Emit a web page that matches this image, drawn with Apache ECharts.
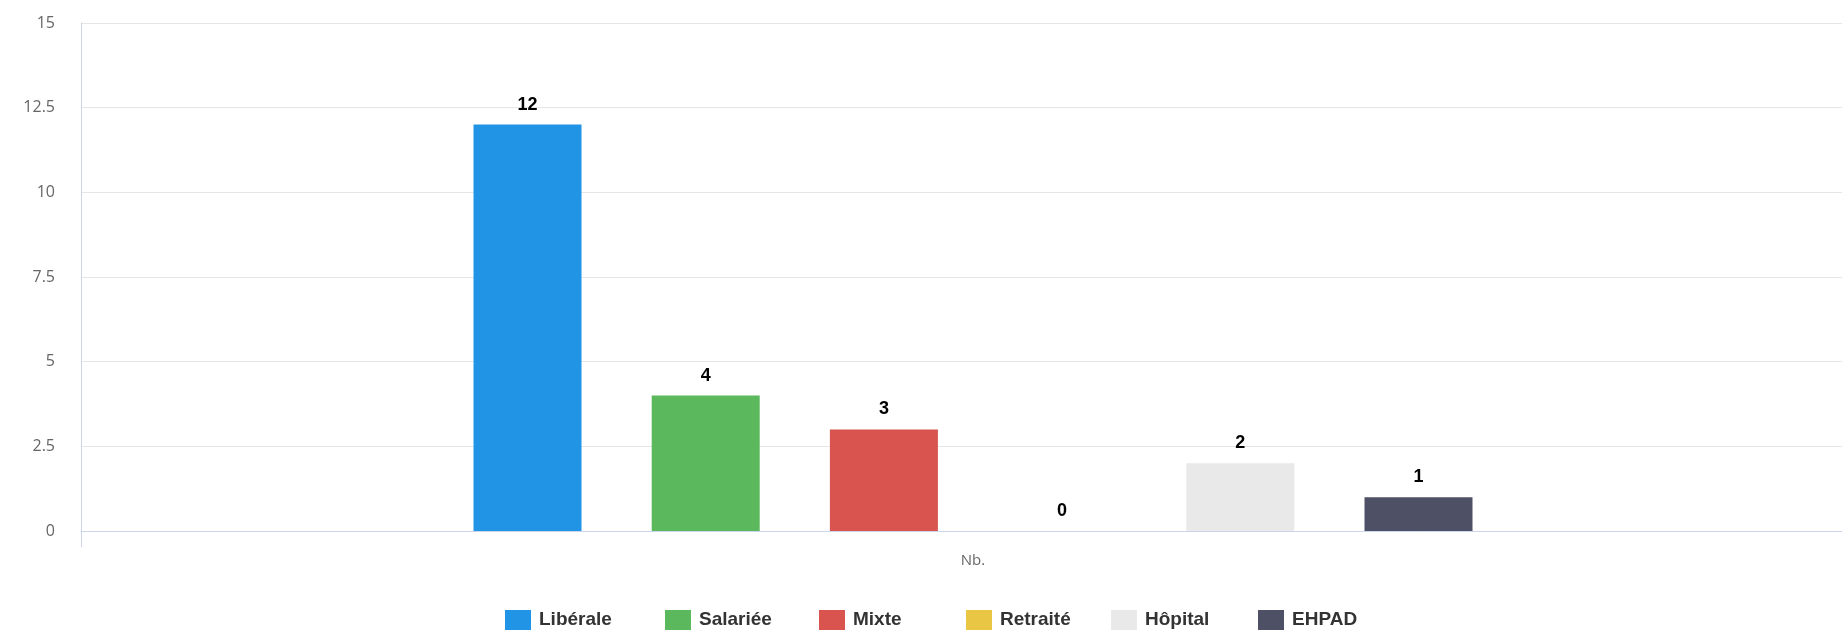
<!DOCTYPE html>
<html>
<head>
<meta charset="utf-8">
<script src="https://cdn.jsdelivr.net/npm/echarts@6/dist/echarts.min.js"></script>
<style>
html,body{margin:0;padding:0;background:#fff;overflow:hidden;width:1842px;height:630px;}
#chart{width:1865px;height:630px;}
</style>
</head>
<body>
<div id="chart"></div>
<script>
const categories = ['Nb.'];
const seriesNames = ['Libérale', 'Salariée', 'Mixte', 'Retraité', 'Hôpital', 'EHPAD'];
const seriesValues = [12, 4, 3, 0, 2, 1];
const seriesColors = ['#2294e6', '#5cb85c', '#d9534f', '#e9c745', '#e9e9e9', '#4e5066'];
const yTicks = [0, 2.5, 5, 7.5, 10, 12.5, 15];
const legendLefts = [505, 665, 819, 966, 1111, 1258];

const chart = echarts.init(document.getElementById('chart'));
const series = seriesNames.map((name, i) => ({
  name: name,
  type: 'bar',
  data: [seriesValues[i]],
  barWidth: 108,
  barGap: '65%',
  itemStyle: { color: seriesColors[i] },
  label: {
    show: true,
    position: 'top',
    distance: 11,
    color: '#000',
    fontWeight: 'bold',
    fontSize: 18,
    fontFamily: 'Liberation Sans, sans-serif'
  }
}));

const legends = seriesNames.map((name, i) => ({
  top: 610,
  left: legendLefts[i],
  padding: 0,
  itemWidth: 26,
  itemHeight: 20,
  itemGap: 0,
  icon: 'rect',
  textStyle: {
    fontSize: 19,
    fontWeight: 'bold',
    color: '#333',
    padding: [0, 0, 0, 3],
    fontFamily: 'Liberation Sans, sans-serif'
  },
  data: [name]
}));

chart.setOption({
  animation: false,
  grid: { left: 81, top: 23, bottom: 99, right: 0, containLabel: false },
  legend: legends,
  xAxis: {
    type: 'category',
    data: categories,
    axisLine: { show: true, lineStyle: { color: '#ccd6eb', width: 1 } },
    axisTick: { show: true, length: 16, lineStyle: { color: '#ccd6eb' } },
    axisLabel: { color: '#666', fontSize: 15, margin: 22, fontFamily: 'Open Sans, sans-serif' }
  },
  yAxis: {
    type: 'value',
    min: yTicks[0],
    max: yTicks[yTicks.length - 1],
    interval: 2.5,
    axisLine: { show: true, lineStyle: { color: '#ccd6eb' } },
    axisTick: { show: false },
    axisLabel: { color: '#666', fontSize: 16, margin: 26, fontFamily: 'Open Sans, sans-serif' },
    splitLine: { show: true, lineStyle: { color: '#e6e6e6', width: 1 } }
  },
  series: series
});
</script>
</body>
</html>
